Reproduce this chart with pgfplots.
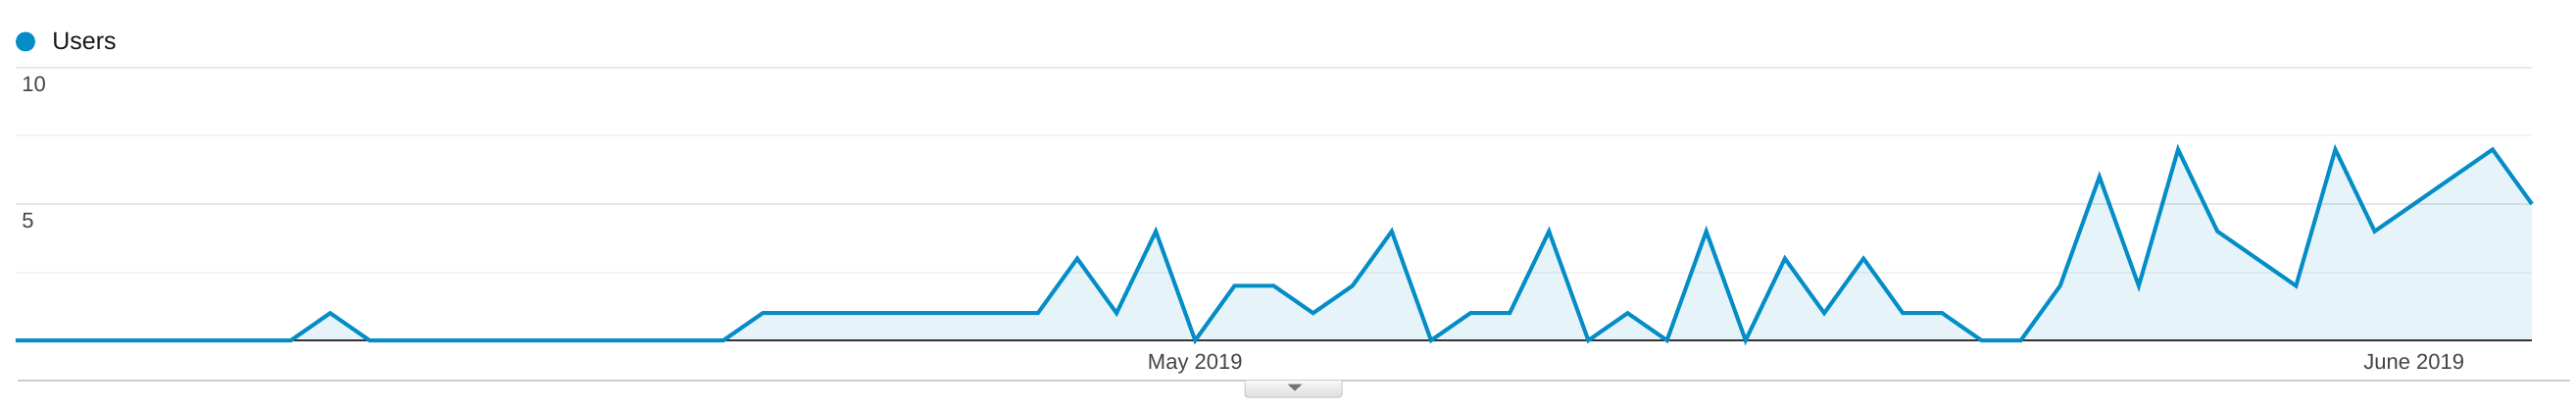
\documentclass[border=0pt]{standalone}
\usepackage{pgfplots}
\pgfplotsset{compat=1.18}
\usepackage{pgfplotstable}
\usepackage{fontspec}
\setmainfont{Liberation Sans}
\definecolor{gablue}{HTML}{058DC7}
\definecolor{gridmaj}{HTML}{E8E8E8}
\definecolor{gridmin}{HTML}{F4F4F4}
\definecolor{ticktext}{HTML}{444444}
\pgfplotstableread{
x y
0 0
1 0
2 0
3 0
4 0
5 0
6 0
7 0
8 1
9 0
10 0
11 0
12 0
13 0
14 0
15 0
16 0
17 0
18 0
19 1
20 1
21 1
22 1
23 1
24 1
25 1
26 1
27 3
28 1
29 4
30 0
31 2
32 2
33 1
34 2
35 4
36 0
37 1
38 1
39 4
40 0
41 1
42 0
43 4
44 0
45 3
46 1
47 3
48 1
49 1
50 0
51 0
52 2
53 6
54 2
55 7
56 4
57 3
58 2
59 7
60 4
61 5
62 6
63 7
64 5
}\users
\begin{document}
\begin{tikzpicture}
\path[use as bounding box] (-8pt,-35.5pt) rectangle (1306pt,173.5pt);
\begin{axis}[
  at={(0,0)}, anchor=south west,
  scale only axis, width=1283.5pt, height=139pt,
  xmin=0, xmax=64, ymin=0, ymax=10,
  axis line style={draw=none},
  xtick={30,61}, xticklabels={May 2019, June 2019},
  ytick={5,10}, minor ytick={2.5,7.5},
  ymajorgrids, yminorgrids,
  major grid style={gridmaj, line width=1pt},
  minor grid style={gridmin, line width=1pt},
  major tick length=0pt, minor tick length=0pt,
  tick style={draw=none},
  ticklabel style={font=\fontsize{11}{13}\selectfont, text=ticktext},
  /pgf/number format/assume math mode=true,
  yticklabel style={anchor=north west, inner sep=0pt, xshift=3pt, yshift=-4.5pt},
  xticklabel style={anchor=base, inner sep=0pt, yshift=-14.5pt},
  clip=false,
]
\addplot[draw=none, fill=gablue, fill opacity=0.1] table[x=x, y=y] {\users} \closedcycle;
\addplot[draw=black!80, line width=1pt] coordinates {(0,0) (64,0)};
\addplot[gablue, line width=2pt, mark=none] table[x=x, y=y] {\users};
\end{axis}
% legend
\fill[gablue] (5pt,152.25pt) circle (5pt);
\node[anchor=west, inner sep=0pt, font=\fontsize{12.5}{15}\selectfont, text=black!90] at (18.5pt,152.25pt) {Users};
% bottom rule and tab
\draw[black!20, line width=1pt] (1pt,-20.5pt) -- (1303pt,-20.5pt);
\shade[top color=black!3, bottom color=black!13, draw=black!22, line width=0.5pt, rounded corners=1.5pt]
  (627pt,-20.5pt) -- (627pt,-29pt) -- (676.5pt,-29pt) -- (676.5pt,-20.5pt);
\fill[black!55] (648.75pt,-22.25pt) -- (656.25pt,-22.25pt) -- (652.5pt,-25.75pt) -- cycle;
\end{tikzpicture}
\end{document}
